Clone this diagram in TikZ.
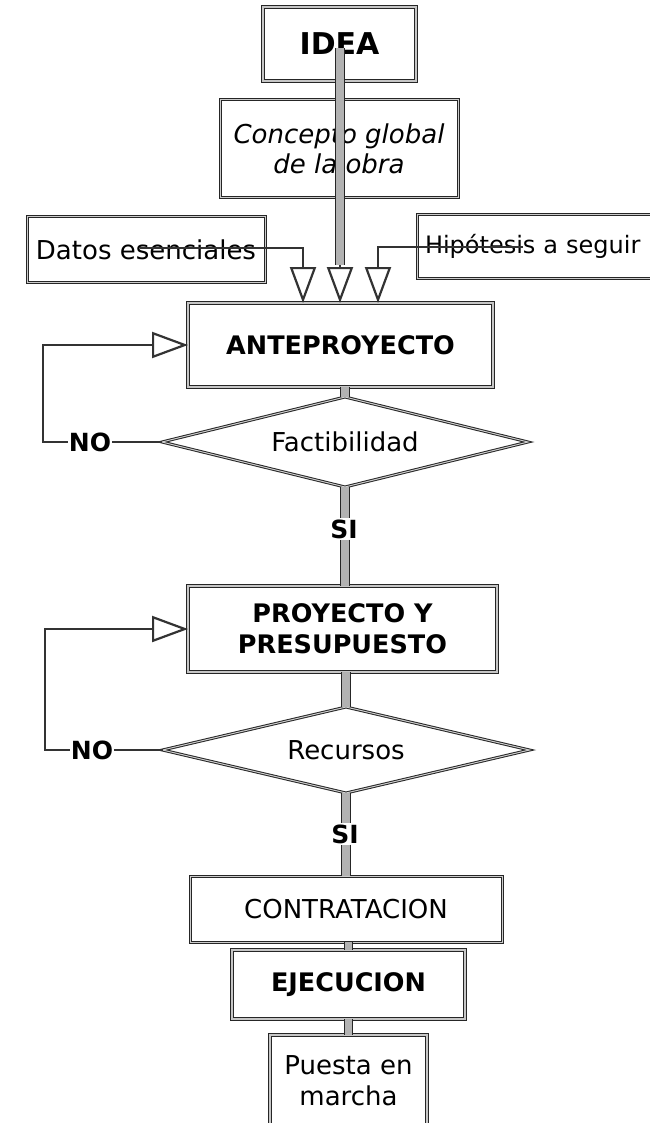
\documentclass[tikz,border=0pt]{standalone}
\usepackage{fontspec}
\setmainfont{DejaVu Sans}
\usepackage{tikz}
\usetikzlibrary{positioning}
\usetikzlibrary{arrows.meta, shapes}

\tikzset{box size/.style 2 args={minimum width=#1pt, minimum height=#2pt},
	heavy box/.style={
		draw=black!85, line width=1.1pt,
		double=gray!45, double distance=2pt,
		fill=white, align=center, inner sep=0pt, outer sep=0pt,
		font=\fontsize{25.5}{31}\selectfont\bfseries
	},
	light box/.style={
		draw=black!85, line width=1pt,
		double=gray!40, double distance=1pt,
		fill=white, align=center, inner sep=0pt, outer sep=0pt,
		font=\fontsize{26}{30}\selectfont
	},
	decision/.style={
		diamond, aspect=4, draw=black!85, line width=1pt,
		double=gray!40, double distance=1pt,
		fill=white, inner sep=0pt, outer sep=0pt,
		font=\fontsize{26}{30}\selectfont
	},
	answer/.style={inner sep=1pt, font=\fontsize{25}{30}\selectfont\bfseries},
	bar/.style={draw=black!85, line width=1pt, double=gray!60, double distance=7.5pt},
	link/.style={draw=black!80, line width=2.2pt},
	link arrow/.style={link, -{Triangle[open, length=36pt, width=26pt]}}
}

\begin{document}
\begin{tikzpicture}[x=1pt,y=-1pt]

 \useasboundingbox[fill=white] (0,0) rectangle (649,1123);

 % upper part
 \node[heavy box, box size={153}{74}, font=\fontsize{30}{34}\selectfont\bfseries] (idea) at (339.5,44) {IDEA};
 \node[light box, box size={238}{98}, font=\fontsize{26}{30}\selectfont\itshape] (concepto) at (339,149) {Concepto global\\de la obra};
 \node[light box, box size={238}{65}] (datos) at (146,249.5) {Datos esenciales};
 \node[light box, box size={266}{63}, anchor=west, text width=250pt, align=left, inner xsep=7pt, font=\fontsize{24}{30}\selectfont] (hipotesis) at (417,246.5) {Hipótesis a seguir};
 \node[heavy box, box size={305}{84}] (ante) at (340.5,345) {ANTEPROYECTO};

 % decisions
 \node[decision, box size={366}{90}] (fact) at (345,442) {Factibilidad};
 \node[answer] (si1) at (344,529) {SI};
 \node[answer] (no1) at (90,442) {NO};
 \node[heavy box, box size={309}{86}] (proy) at (342.5,629) {PROYECTO Y\\PRESUPUESTO};
 \node[decision, box size={367}{86}] (rec) at (346,750) {Recursos};
 \node[answer] (si2) at (345,834) {SI};
 \node[answer] (no2) at (92,750) {NO};

 % lower part
 \node[light box, box size={312}{66}] (contr) at (346,909) {CONTRATACION};
 \node[heavy box, box size={233}{69}] (ejec) at (348.5,984.5) {EJECUCION};
 \node[heavy box, box size={157}{92}, font=\fontsize{26}{31}\selectfont] (puesta) at (348.5,1081) {Puesta en\\marcha};

 % inputs of the anteproyecto
 \coordinate (idea start) at (340,48);
 \coordinate (idea end) at (340,265);
 \coordinate (datos start) at (140,248);
 \coordinate (datos turn) at (303,248);
 \coordinate (hipo start) at (523,247);
 \coordinate (hipo turn) at (378,247);
 \draw[link arrow] (datos start) -- (datos turn) -- (datos turn |- ante.north);
 \draw[link arrow] (hipo start) -- (hipo turn) -- (hipo turn |- ante.north);
 \draw[bar] (idea start) -- (idea end);
 \draw[link arrow] (idea end) -- (idea end |- ante.north);

 % main line
 \draw[bar] (ante.south -| fact.north) -- (fact.north);
 \draw[bar] (fact.south) -- (si1.north -| fact.south);
 \draw[bar] (si1.south -| fact.south) -- (proy.north -| fact.south);
 \draw[bar] (proy.south -| rec.north) -- (rec.north);
 \draw[bar] (rec.south) -- (si2.north -| rec.south);
 \draw[bar] (si2.south -| rec.south) -- (contr.north -| rec.south);
 \draw[bar] (contr.south -| ejec.north) -- (ejec.north);
 \draw[bar] (ejec.south) -- (puesta.north);

 % loops back
 \coordinate (loop1) at (43,442);
 \coordinate (loop2) at (45,750);
 \draw[link] (no1.east) -- (fact.west);
 \draw[link arrow] (no1.west) -- (loop1) |- (ante.west);
 \draw[link] (no2.east) -- (rec.west);
 \draw[link arrow] (no2.west) -- (loop2) |- (proy.west);

\end{tikzpicture}
\end{document}
